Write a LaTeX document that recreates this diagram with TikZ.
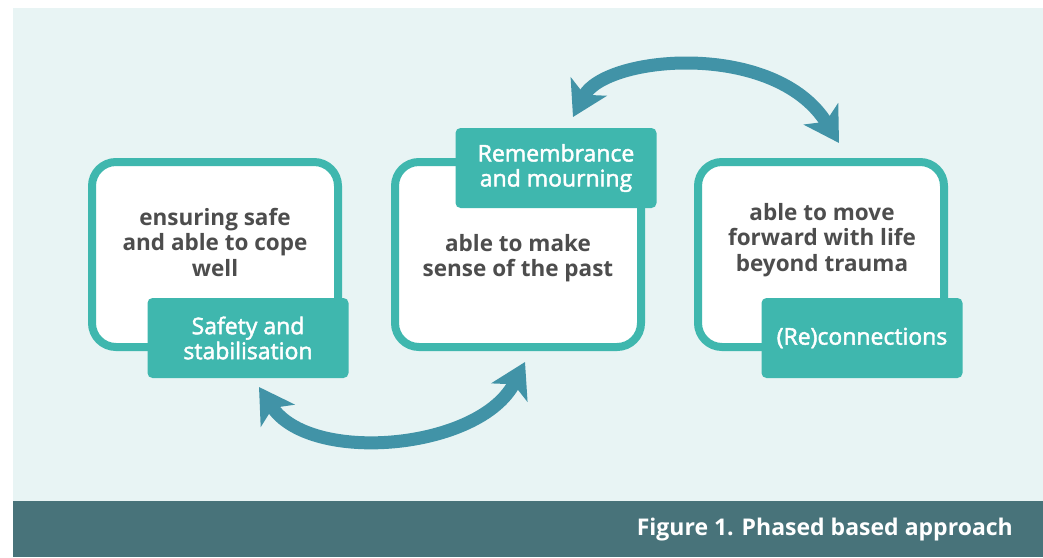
\documentclass[tikz,border=0pt]{standalone}
\usepackage{fontspec}
\setmainfont{Open Sans}
\newfontfamily\semifont{Open Sans}[FakeBold=2]
\usetikzlibrary{arrows.meta}
\definecolor{panelbg}{RGB}{232,244,244}
\definecolor{teal}{RGB}{63,183,174}
\definecolor{arrowc}{RGB}{65,147,167}
\definecolor{barc}{RGB}{72,115,122}
\definecolor{textc}{RGB}{77,77,77}
\tikzset{
  phasebox/.style={draw=teal, line width=8pt, fill=white, rounded corners=24pt,
    minimum width=246pt, minimum height=185pt, inner sep=0pt},
  labelbox/.style={fill=teal, rounded corners=5pt, minimum width=201pt,
    minimum height=80pt, inner sep=0pt},
  labeltext/.style={text=white, font=\fontsize{23}{25}\selectfont\semifont, align=center, inner sep=0pt},
  desctext/.style={text=textc, font=\fontsize{22.5}{25.5}\selectfont\bfseries, align=center, inner sep=0pt},
  cyclearrow/.style={draw=arrowc, line width=13pt,
    {Stealth[length=34pt,width=40pt,inset=9pt]}-{Stealth[length=34pt,width=40pt,inset=9pt]}},
}
\begin{document}
\begin{tikzpicture}[x=1pt,y=-1pt]
\useasboundingbox (0,0) rectangle (1043,557);
\fill[white] (0,0) rectangle (1043,557);
\fill[panelbg] (13,8) rectangle (1043,501);
\fill[barc] (13,501) rectangle (1043,557);
\node[text=white, font=\fontsize{23}{24}\selectfont\bfseries, anchor=east, inner sep=0pt] (caption) at (1013,530) {Figure 1. Phased based approach};

% boxes
\node[phasebox] (b1) at (215,254.5) {};
\node[phasebox] (b2) at (518,254.5) {};
\node[phasebox] (b3) at (821,254.5) {};

\node[desctext] (t1) at (215,242) {ensuring safe\\and able to cope\\well};
\node[desctext] (t2) at (518,258) {able to make\\sense of the past};
\node[desctext] (t3) at (822,240) {able to move\\forward with life\\beyond trauma};

\node[labelbox] (l1) at (248,338) {};
\node[labelbox] (l2) at (556,168) {};
\node[labelbox] (l3) at (862,338) {};
\node[labeltext] (lt1) at (l1) {Safety and\\stabilisation};
\node[labeltext] (lt2) at (l2) {Remembrance\\and mourning};
\node[labeltext] (lt3) at (l3) {(Re)connections};

% arrows
\coordinate (a1s) at (525,362);
\coordinate (a1e) at (259,387);
\coordinate (a2s) at (573,117);
\coordinate (a2e) at (839,143);
\path[cyclearrow] (a1s) .. controls (480,450) and (310,465) .. (a1e);
\path[cyclearrow] (a2s) .. controls (605,55) and (775,40) .. (a2e);
\end{tikzpicture}
\end{document}
